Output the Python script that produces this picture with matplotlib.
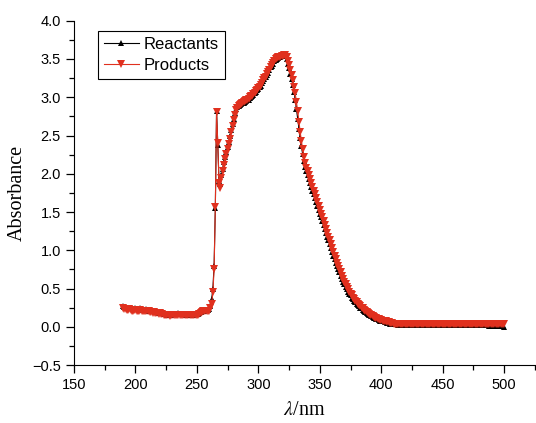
import numpy as np
import matplotlib.pyplot as plt
from matplotlib.ticker import MultipleLocator

plt.rcParams['font.family'] = 'Liberation Sans'
plt.rcParams['mathtext.fontset'] = 'stix'

# wavelength axis, 1 nm steps
wavelength = np.arange(190, 501)

reactants = [
    0.27, 0.26, 0.25, 0.25, 0.24, 0.25, 0.24, 0.24, 0.23, 0.23,  # 190
    0.24, 0.23, 0.23, 0.23, 0.24, 0.23, 0.22, 0.22, 0.22, 0.23,  # 200
    0.22, 0.21, 0.21, 0.20, 0.20, 0.20, 0.19, 0.19, 0.19, 0.18,  # 210
    0.19, 0.18, 0.18, 0.17, 0.17, 0.17, 0.16, 0.16, 0.16, 0.16,  # 220
    0.17, 0.17, 0.17, 0.17, 0.17, 0.18, 0.17, 0.17, 0.17, 0.17,  # 230
    0.17, 0.16, 0.17, 0.17, 0.16, 0.17, 0.16, 0.16, 0.17, 0.17,  # 240
    0.17, 0.17, 0.18, 0.19, 0.20, 0.21, 0.21, 0.22, 0.22, 0.22,  # 250
    0.23, 0.27, 0.36, 0.50, 0.80, 1.55, 2.82, 2.38, 1.90, 1.87,  # 260
    1.98, 2.06, 2.15, 2.22, 2.29, 2.35, 2.42, 2.49, 2.57, 2.65,  # 270
    2.72, 2.79, 2.84, 2.87, 2.89, 2.90, 2.91, 2.92, 2.93, 2.94,  # 280
    2.95, 2.96, 2.97, 2.99, 3.00, 3.01, 3.03, 3.05, 3.07, 3.09,  # 290
    3.11, 3.13, 3.15, 3.18, 3.21, 3.24, 3.26, 3.29, 3.32, 3.35,  # 300
    3.39, 3.41, 3.44, 3.47, 3.49, 3.50, 3.51, 3.52, 3.53, 3.54,  # 310
    3.54, 3.55, 3.54, 3.50, 3.44, 3.38, 3.31, 3.24, 3.16, 3.07,  # 320
    2.97, 2.85, 2.72, 2.59, 2.47, 2.36, 2.26, 2.17, 2.09, 2.03,  # 330
    1.98, 1.93, 1.88, 1.83, 1.78, 1.73, 1.68, 1.63, 1.58, 1.53,  # 340
    1.48, 1.43, 1.38, 1.33, 1.28, 1.23, 1.18, 1.13, 1.08, 1.03,  # 350
    0.98, 0.93, 0.89, 0.84, 0.80, 0.75, 0.71, 0.67, 0.63, 0.59,  # 360
    0.56, 0.52, 0.49, 0.46, 0.43, 0.41, 0.38, 0.36, 0.34, 0.32,  # 370
    0.30, 0.28, 0.27, 0.25, 0.24, 0.22, 0.21, 0.19, 0.18, 0.17,  # 380
    0.16, 0.15, 0.14, 0.13, 0.12, 0.11, 0.10, 0.10, 0.09, 0.08,  # 390
    0.08, 0.07, 0.07, 0.06, 0.06, 0.05, 0.05, 0.04, 0.04, 0.04,  # 400
    0.03, 0.03, 0.03, 0.03, 0.02, 0.02, 0.02, 0.02, 0.02, 0.02,  # 410
    0.02, 0.02, 0.02, 0.02, 0.02, 0.02, 0.02, 0.02, 0.02, 0.02,  # 420
    0.02, 0.02, 0.02, 0.02, 0.02, 0.02, 0.02, 0.02, 0.02, 0.02,  # 430
    0.02, 0.02, 0.02, 0.02, 0.02, 0.02, 0.02, 0.02, 0.02, 0.02,  # 440
    0.02, 0.02, 0.02, 0.02, 0.02, 0.02, 0.02, 0.02, 0.02, 0.02,  # 450
    0.02, 0.02, 0.02, 0.02, 0.02, 0.02, 0.02, 0.02, 0.02, 0.02,  # 460
    0.02, 0.02, 0.02, 0.02, 0.02, 0.02, 0.02, 0.02, 0.02, 0.02,  # 470
    0.02, 0.02, 0.02, 0.02, 0.02, 0.02, 0.02, 0.02, 0.01, 0.01,  # 480
    0.01, 0.01, 0.01, 0.01, 0.01, 0.01, 0.01, 0.01, 0.01, 0.01,  # 490
    0.00,                                                        # 500
]

products = [
    0.24, 0.23, 0.23, 0.22, 0.22, 0.23, 0.22, 0.21, 0.21, 0.22,  # 190
    0.22, 0.21, 0.21, 0.21, 0.22, 0.21, 0.21, 0.20, 0.20, 0.21,  # 200
    0.20, 0.20, 0.19, 0.19, 0.18, 0.19, 0.18, 0.18, 0.18, 0.17,  # 210
    0.18, 0.17, 0.17, 0.16, 0.16, 0.15, 0.15, 0.15, 0.14, 0.15,  # 220
    0.15, 0.15, 0.16, 0.15, 0.15, 0.16, 0.16, 0.15, 0.16, 0.16,  # 230
    0.15, 0.15, 0.16, 0.15, 0.15, 0.16, 0.15, 0.15, 0.15, 0.15,  # 240
    0.16, 0.16, 0.17, 0.18, 0.19, 0.20, 0.20, 0.21, 0.21, 0.20,  # 250
    0.21, 0.24, 0.30, 0.45, 0.75, 1.56, 2.81, 2.40, 1.88, 1.81,  # 260
    1.95, 2.03, 2.12, 2.19, 2.26, 2.32, 2.39, 2.46, 2.54, 2.62,  # 270
    2.70, 2.77, 2.83, 2.86, 2.88, 2.90, 2.91, 2.93, 2.94, 2.95,  # 280
    2.96, 2.97, 2.98, 3.00, 3.01, 3.02, 3.04, 3.06, 3.08, 3.10,  # 290
    3.12, 3.14, 3.16, 3.19, 3.22, 3.25, 3.27, 3.30, 3.33, 3.36,  # 300
    3.40, 3.42, 3.45, 3.48, 3.50, 3.51, 3.52, 3.53, 3.53, 3.54,  # 310
    3.54, 3.55, 3.55, 3.53, 3.48, 3.42, 3.36, 3.29, 3.22, 3.14,  # 320
    3.05, 2.94, 2.82, 2.68, 2.55, 2.43, 2.32, 2.22, 2.14, 2.08,  # 330
    2.03, 1.98, 1.93, 1.88, 1.83, 1.78, 1.73, 1.68, 1.63, 1.58,  # 340
    1.53, 1.48, 1.43, 1.38, 1.33, 1.28, 1.23, 1.18, 1.13, 1.08,  # 350
    1.03, 0.98, 0.93, 0.89, 0.84, 0.80, 0.75, 0.71, 0.67, 0.63,  # 360
    0.59, 0.56, 0.52, 0.49, 0.46, 0.43, 0.41, 0.38, 0.36, 0.34,  # 370
    0.32, 0.30, 0.28, 0.27, 0.25, 0.24, 0.22, 0.21, 0.19, 0.18,  # 380
    0.17, 0.16, 0.15, 0.14, 0.13, 0.12, 0.11, 0.10, 0.10, 0.09,  # 390
    0.09, 0.08, 0.08, 0.07, 0.07, 0.06, 0.06, 0.05, 0.05, 0.05,  # 400
    0.04, 0.04, 0.04, 0.04, 0.03, 0.03, 0.03, 0.03, 0.03, 0.03,  # 410
    0.03, 0.03, 0.03, 0.03, 0.03, 0.03, 0.03, 0.03, 0.03, 0.03,  # 420
    0.03, 0.03, 0.03, 0.03, 0.03, 0.03, 0.03, 0.03, 0.03, 0.03,  # 430
    0.03, 0.03, 0.03, 0.03, 0.03, 0.03, 0.03, 0.03, 0.03, 0.03,  # 440
    0.03, 0.03, 0.03, 0.03, 0.03, 0.03, 0.03, 0.03, 0.03, 0.03,  # 450
    0.03, 0.03, 0.03, 0.03, 0.03, 0.03, 0.03, 0.03, 0.03, 0.03,  # 460
    0.03, 0.03, 0.03, 0.03, 0.04, 0.04, 0.04, 0.04, 0.04, 0.04,  # 470
    0.04, 0.04, 0.04, 0.04, 0.04, 0.04, 0.04, 0.04, 0.04, 0.04,  # 480
    0.04, 0.04, 0.04, 0.04, 0.04, 0.04, 0.04, 0.04, 0.04, 0.04,  # 490
    0.04,                                                        # 500
]

red = '#E0301E'

fig = plt.figure(figsize=(5.36, 4.23), dpi=100)
ax = fig.add_axes([0.138, 0.137, 0.860, 0.814])

ax.plot(wavelength, reactants, color='black', lw=0.8, marker='^',
        ms=5, mew=0, label='Reactants')
ax.plot(wavelength, products, color=red, lw=0.8, marker='v',
        ms=5.5, mew=0, label='Products')

ax.set_xlim(150, 525)
ax.set_ylim(-0.5, 4.0)
ax.xaxis.set_major_locator(MultipleLocator(50))
ax.xaxis.set_minor_locator(MultipleLocator(25))
ax.yaxis.set_major_locator(MultipleLocator(0.5))
ax.yaxis.set_minor_locator(MultipleLocator(0.25))
ax.set_yticks(np.arange(-0.5, 4.01, 0.5))
ax.set_yticklabels(['\u22120.5'] + ['%.1f' % v for v in np.arange(0, 4.01, 0.5)])

ax.spines['top'].set_visible(False)
ax.spines['right'].set_visible(False)
ax.tick_params(which='both', direction='out', labelsize=10.5, width=0.9)
ax.tick_params(which='major', length=6)
ax.tick_params(which='minor', length=3.5)

ax.set_xlabel(r'$\lambda$/nm', family='Liberation Serif', fontsize=14.5,
              labelpad=6)
ax.set_ylabel('Absorbance', family='Liberation Serif', fontsize=14.5)

leg = ax.legend(loc='upper left', bbox_to_anchor=(0.052, 0.970),
                borderaxespad=0, fancybox=False, edgecolor='black',
                framealpha=1, fontsize=12, handlelength=2.1,
                handletextpad=0.3, borderpad=0.35, labelspacing=0.38)
leg.get_frame().set_linewidth(0.8)

fig.savefig('out.png', dpi=100)
